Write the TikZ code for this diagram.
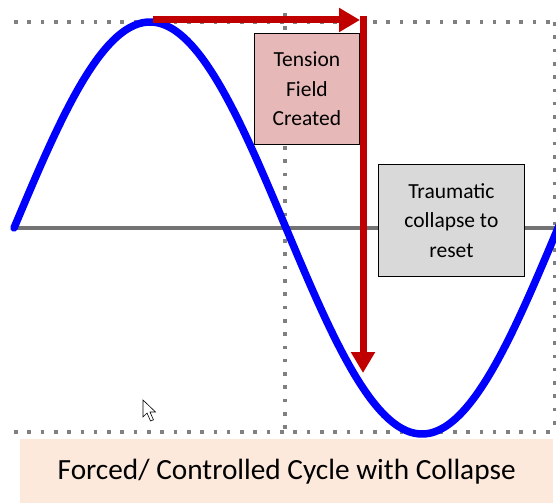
\documentclass[tikz,border=0pt]{standalone}
\usepackage{fontspec}
\setmainfont{Carlito}
\usetikzlibrary{arrows.meta}
\definecolor{wavblue}{RGB}{0,0,255}
\definecolor{arrred}{RGB}{192,0,0}
\definecolor{dotgray}{RGB}{128,128,128}
\definecolor{pinkbox}{RGB}{230,185,184}
\definecolor{graybox}{RGB}{217,217,217}
\definecolor{banner}{RGB}{252,233,219}
\tikzset{
  dotline/.style={dotgray, line width=3.6pt, dash pattern=on 3.6pt off 9.7pt},
  axisline/.style={dotgray!90!black, line width=3.5pt},
  wave/.style={wavblue, line width=7.5pt, line cap=round},
  redarrow/.style={arrred, line width=7pt, -{Triangle[length=21pt,width=23pt]}},
  labelbox/.style={draw=black, line width=0.8pt, align=center, font=\fontsize{21.5}{29.5}\selectfont, inner sep=0pt}
}
\begin{document}
\begin{tikzpicture}[x=1pt,y=-1pt]
\useasboundingbox (0,0) rectangle (556,503);
% banner
\node[fill=banner, minimum width=533pt, minimum height=64pt, inner sep=0pt, anchor=north west, font=\fontsize{29.3}{33}\selectfont] (banner) at (20,439) {Forced/ Controlled Cycle with Collapse};
% dotted grid
\coordinate (tl) at (14,22);
\coordinate (tr) at (556,22);
\coordinate (bl) at (14,432);
\coordinate (br) at (556,432);
\coordinate (mt) at (285,13);
\coordinate (mb) at (285,437);
\coordinate (rt) at (555,22);
\coordinate (rb) at (555,432);
\draw[dotline] (tl) -- (tr);
\draw[dotline] (bl) -- (br);
\draw[dotline] (mt) -- (mb);
\draw[dotline] (rt) -- (rb);
% axis
\coordinate (al) at (16,228);
\coordinate (ar) at (556,228);
\draw[axisline] (al) -- (ar);
% boxes
\node[labelbox, fill=pinkbox, minimum width=105pt, minimum height=111pt, anchor=north west] (tension) at (254,33) {Tension\\Field\\Created};
\node[labelbox, fill=graybox, minimum width=146pt, minimum height=112pt, anchor=north west] (trauma) at (378,164) {Traumatic\\collapse to\\reset};
% sine wave
\begin{scope}
\clip (0,0) rectangle (556,503);
\draw[wave] plot[domain=14:560, samples=200, smooth] (\x, {228 - 206*sin((\x-14)/272*180)});
\end{scope}
% red arrows
\coordinate (hs) at (153,20);
\coordinate (he) at (360,20);
\coordinate (vs) at (363,16.5);
\coordinate (ve) at (363,373);
\draw[redarrow] (vs) -- (ve);
\draw[redarrow] (hs) -- (he);
% mouse cursor
\draw[black, fill=white, line width=0.6pt, line join=miter]
  (143,400) -- (143,417) -- (147,413) -- (150.5,421) -- (153.5,419.8) -- (150,412) -- (155.5,412) -- cycle;
\end{tikzpicture}
\end{document}
